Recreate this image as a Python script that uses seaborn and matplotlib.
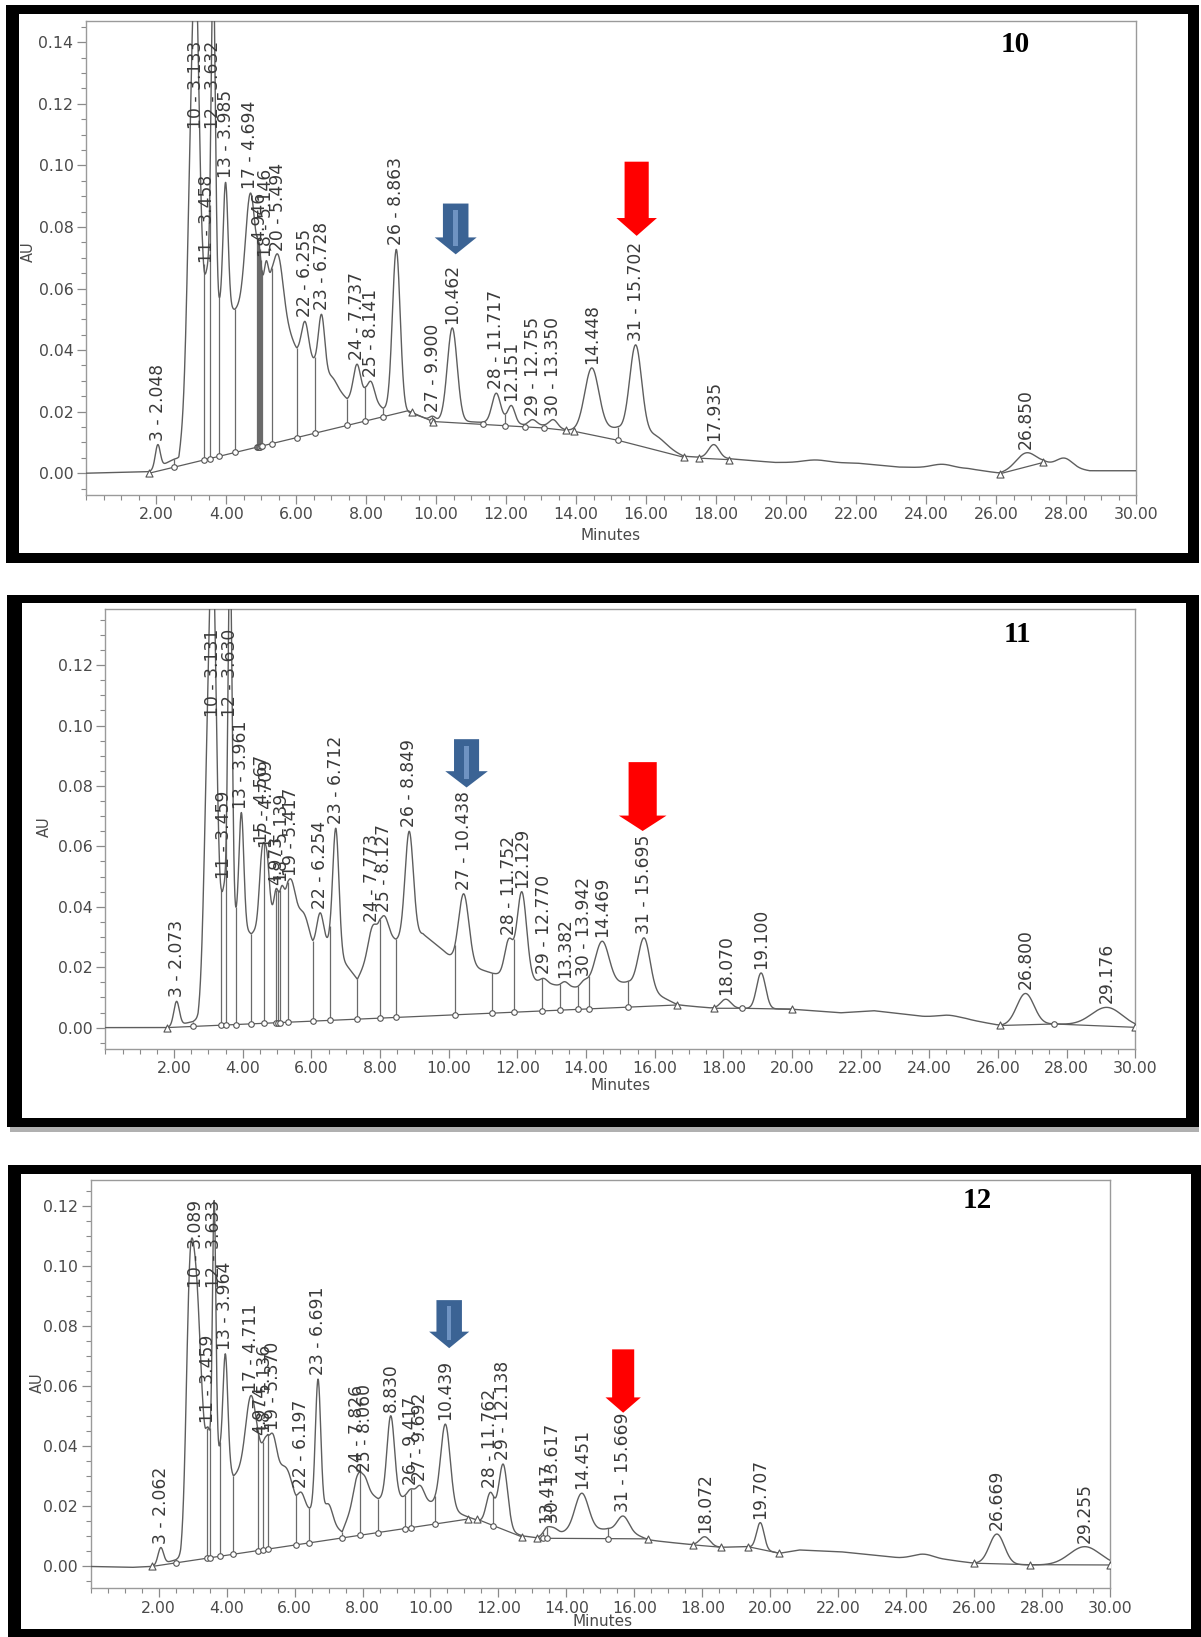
import numpy as np
import pandas as pd
import matplotlib
matplotlib.use("Agg")
import matplotlib.pyplot as plt
from matplotlib.patches import Rectangle, Polygon
from matplotlib.ticker import FixedLocator, MultipleLocator, FormatStrFormatter
import seaborn as sns

W, H, DPI = 1201, 1637, 100

sns.set_theme(style="white")
plt.rcParams["font.family"] = ["DejaVu Sans"]

# ---------------------------------------------------------------- sample 10
P1_PEAK_NO = [3, 10, 11, 12, 13, 17, None, 18, 20, 22, 23, 24, 25, 26, 27, None,
              28, None, 29, 30, None, 31, None, None]
P1_PEAK_RT = [2.048, 3.133, 3.458, 3.632, 3.985, 4.694, 4.946, 5.146, 5.494, 6.255,
              6.728, 7.737, 8.141, 8.863, 9.900, 10.462, 11.717, 12.151, 12.755,
              13.350, 14.448, 15.702, 17.935, 26.850]
P1_PEAK_AU = [0.0093, 0.165, 0.067, 0.165, 0.0945, 0.091, 0.074, 0.069, 0.0708, 0.0493,
              0.0516, 0.0354, 0.0298, 0.0727, 0.0185, 0.0472, 0.026, 0.022, 0.0174,
              0.0174, 0.0342, 0.0417, 0.0093, 0.0066]
P1_PEAK_SD = [0.07, 0.10, 0.05, 0.06, 0.07, 0.14, 0.06, 0.06, 0.14, 0.10, 0.09, 0.10,
              0.10, 0.11, 0.08, 0.14, 0.12, 0.10, 0.12, 0.12, 0.20, 0.17, 0.15, 0.28]
P1_HUMP_T = [2.97, 7.05, 16.25, 20.84, 24.46, 27.96]
P1_HUMP_AU = [0.11, 0.031, 0.0125, 0.0043, 0.0029, 0.0049]
P1_HUMP_SD = [0.10, 0.12, 0.30, 0.35, 0.30, 0.22]
P1_ENV_T = [0.0, 1.8, 2.5, 2.65, 3.33, 3.55, 3.79, 4.25, 5.30, 6.02, 6.53, 7.46, 7.98,
            8.48, 9.3, 9.9, 10.1, 11.34, 11.98, 12.55, 13.07, 13.75, 14.0, 15.19, 17.07,
            17.5, 18.38, 19.66, 22.0, 23.22, 25.2, 26.1, 27.35, 28.67, 30.0]
P1_ENV_AU = [0.0, 0.0005, 0.0045, 0.005, 0.058, 0.06, 0.054, 0.053, 0.06, 0.040, 0.036,
             0.024, 0.026, 0.021, 0.0195, 0.017, 0.0172, 0.0165, 0.0172, 0.0155, 0.0155,
             0.014, 0.014, 0.0148, 0.0055, 0.0052, 0.0047, 0.0035, 0.0033, 0.002, 0.0015,
             0.0, 0.0033, 0.0008, 0.0008]
P1_BASE = [([1.8, 9.2, 9.9, 13.07, 13.71], [0.0, 0.0203, 0.0168, 0.0147, 0.0139]),
           ([13.95, 15.19, 17.07], [0.0136, 0.0107, 0.0052]),
           ([17.5, 18.38], [0.0049, 0.0044]),
           ([26.1, 27.35], [-0.0002, 0.0035])]
P1_DROP_T = [2.51, 3.357, 3.53, 3.79, 4.26, 4.87, 4.90, 4.93, 4.96, 4.99, 5.02, 5.30,
             6.02, 6.53, 7.46, 7.98, 8.48, 9.88, 11.34, 11.98, 12.55, 13.07, 15.19]
P1_TRI_T = [1.8, 9.3, 9.92, 13.71, 13.95, 17.07, 17.5, 18.38, 26.1, 27.35]

# ---------------------------------------------------------------- sample 11
P2_PEAK_NO = [3, 10, 11, 12, 13, 15, 17, None, 18, 19, 22, 23, 24, 25, 26, 27, 28, None,
              29, None, 30, None, 31, None, None, None, None]
P2_PEAK_RT = [2.073, 3.131, 3.459, 3.630, 3.961, 4.567, 4.709, 4.973, 5.139, 5.417,
              6.254, 6.712, 7.773, 8.127, 8.849, 10.438, 11.752, 12.129, 12.770, 13.382,
              13.942, 14.469, 15.695, 18.070, 19.100, 26.800, 29.176]
P2_PEAK_AU = [0.0087, 0.16, 0.0478, 0.16, 0.0712, 0.0598, 0.058, 0.046, 0.047, 0.049,
              0.038, 0.066, 0.0335, 0.037, 0.065, 0.0443, 0.0295, 0.045, 0.0163, 0.0152,
              0.0158, 0.0286, 0.0297, 0.0094, 0.0181, 0.0113, 0.0067]
P2_PEAK_SD = [0.08, 0.10, 0.05, 0.06, 0.07, 0.08, 0.07, 0.06, 0.06, 0.12, 0.10, 0.09,
              0.12, 0.12, 0.12, 0.15, 0.12, 0.14, 0.10, 0.10, 0.10, 0.20, 0.17, 0.15,
              0.13, 0.25, 0.45]
P2_HUMP_T = [2.96, 5.8, 16.2, 24.56]
P2_HUMP_AU = [0.10, 0.0375, 0.0104, 0.0041]
P2_HUMP_SD = [0.10, 0.15, 0.30, 0.30]
P2_ENV_T = [0.0, 1.78, 2.55, 2.7, 3.38, 3.8, 4.25, 5.05, 5.31, 6.04, 6.53, 7.34, 7.99,
            8.46, 9.25, 9.8, 10.18, 11.27, 12.73, 13.24, 13.76, 14.10, 15.22, 16.66,
            17.74, 18.54, 19.99, 21.41, 22.38, 23.83, 25.04, 26.07, 27.64, 30.0]
P2_ENV_AU = [0.0, 0.0, 0.002, 0.003, 0.038, 0.035, 0.031, 0.040, 0.042, 0.026, 0.028,
             0.016, 0.031, 0.029, 0.031, 0.026, 0.022, 0.018, 0.015, 0.0138, 0.0133,
             0.0142, 0.015, 0.0075, 0.0064, 0.0064, 0.0061, 0.0049, 0.0056, 0.0037,
             0.0029, 0.0007, 0.0012, 0.0001]
P2_BASE = [([1.78, 16.66], [0.0, 0.0075]),
           ([17.74, 18.54, 19.99], [0.0064, 0.0064, 0.0061]),
           ([26.07, 27.64, 29.98], [0.0007, 0.0012, 0.0001])]
P2_DROP_T = [2.55, 3.38, 3.52, 3.80, 4.25, 4.62, 4.96, 5.02, 5.09, 5.31, 6.04, 6.53,
             7.34, 7.99, 8.46, 10.18, 11.27, 11.89, 12.73, 13.24, 13.76, 14.10, 15.22,
             18.54, 27.64]
P2_TRI_T = [1.78, 16.66, 17.74, 19.99, 26.07, 29.98]

# ---------------------------------------------------------------- sample 12
P3_PEAK_NO = [3, 10, 11, 12, 13, 17, None, 18, 19, 22, 23, 24, 25, None, 26, 27, None,
              28, 29, None, 30, None, 31, None, None, None, None]
P3_PEAK_RT = [2.062, 3.089, 3.459, 3.633, 3.964, 4.711, 4.974, 5.136, 5.370, 6.197,
              6.691, 7.826, 8.060, 8.830, 9.417, 9.692, 10.439, 11.762, 12.138, 13.417,
              13.617, 14.451, 15.669, 18.072, 19.707, 26.669, 29.255]
P3_PEAK_AU = [0.0063, 0.101, 0.0463, 0.122, 0.0708, 0.0569, 0.042, 0.043, 0.044, 0.0247,
              0.0624, 0.0297, 0.0302, 0.0502, 0.0258, 0.027, 0.0474, 0.0247, 0.0341,
              0.013, 0.013, 0.0244, 0.0168, 0.0099, 0.0146, 0.0108, 0.0066]
P3_PEAK_SD = [0.08, 0.14, 0.05, 0.05, 0.07, 0.15, 0.06, 0.06, 0.10, 0.10, 0.08, 0.10,
              0.10, 0.11, 0.10, 0.12, 0.14, 0.12, 0.13, 0.10, 0.12, 0.20, 0.17, 0.15,
              0.11, 0.22, 0.45]
P3_HUMP_T = [2.9, 5.8, 7.0, 16.0, 24.51]
P3_HUMP_AU = [0.098, 0.032, 0.0208, 0.0115, 0.0041]
P3_HUMP_SD = [0.10, 0.15, 0.12, 0.25, 0.30]
P3_ENV_T = [0.0, 1.2, 1.8, 2.5, 2.65, 3.40, 3.81, 4.20, 5.0, 5.21, 6.04, 6.43, 7.40,
            7.93, 8.46, 9.25, 10.13, 11.1, 12.7, 13.1, 14.0, 15.23, 16.41, 17.73, 18.55,
            19.34, 20.27, 20.85, 22.07, 23.78, 25.24, 25.98, 27.63, 30.0]
P3_ENV_AU = [0.0, -0.0003, 0.0, 0.0022, 0.003, 0.037, 0.038, 0.030, 0.038, 0.041, 0.021,
             0.019, 0.0115, 0.027, 0.0225, 0.023, 0.021, 0.0165, 0.0102, 0.0096, 0.0115,
             0.0125, 0.0088, 0.0072, 0.0064, 0.0066, 0.0044, 0.0055, 0.0049, 0.0029,
             0.0022, 0.0011, 0.0005, 0.0005]
P3_BASE = [([1.8, 11.11], [0.0, 0.0158]),
           ([11.36, 12.68], [0.0158, 0.0099]),
           ([13.12, 16.41], [0.0094, 0.0092]),
           ([17.73, 18.55], [0.0072, 0.0064]),
           ([19.34, 20.27], [0.0066, 0.0044]),
           ([25.98, 27.63, 30.0], [0.0011, 0.0006, 0.0005])]
P3_DROP_T = [2.5, 3.41, 3.51, 3.81, 4.20, 4.92, 5.06, 5.21, 6.04, 6.43, 7.40, 7.93, 8.46,
             9.25, 9.44, 10.13, 11.85, 13.32, 13.42, 15.23]
P3_TRI_T = [1.8, 11.11, 11.36, 12.68, 13.12, 16.41, 17.73, 18.55, 19.34, 20.27, 25.98,
            27.63, 30.0]

X_TICKS = [2, 4, 6, 8, 10, 12, 14, 16, 18, 20, 22, 24, 26, 28, 30]

TRACE_C = "#5e5e5e"
TEXT_C = "#3a3a3a"
FRAME_C = "#9a9a9a"
BLUE = "#3b6394"
RED = "#ff0000"


def px_rect(l, t, r, b):
    return [l / W, 1 - b / H, (r - l) / W, (b - t) / H]


def peak_model(env_t, env_y, centers, heights, widths):
    """Baseline envelope plus Gaussian peaks whose apexes reach the given heights."""
    c = np.asarray(centers, float)
    w = np.asarray(widths, float)
    target = np.asarray(heights, float) - np.interp(c, env_t, env_y)
    G = np.exp(-0.5 * ((c[:, None] - c[None, :]) / w[None, :]) ** 2)
    amp = np.clip(target, 0, None).copy()
    for _ in range(400):
        for i in range(len(amp)):
            r = target[i] - G[i] @ amp + amp[i]
            amp[i] = max(r, 0.0)

    def f(x):
        x = np.atleast_1d(np.asarray(x, float))
        g = np.exp(-0.5 * ((x[:, None] - c[None, :]) / w[None, :]) ** 2)
        return np.interp(x, env_t, env_y) + g @ amp
    return f


def down_arrow(ax, xc, y_top, y_neck, y_tip, shaft_w, head_w, color, stripe=None):
    verts = [(xc - shaft_w / 2, y_top), (xc + shaft_w / 2, y_top),
             (xc + shaft_w / 2, y_neck), (xc + head_w / 2, y_neck), (xc, y_tip),
             (xc - head_w / 2, y_neck), (xc - shaft_w / 2, y_neck)]
    ax.add_patch(Polygon(verts, closed=True, fc=color, ec="none", zorder=6))
    if stripe:
        h = y_top - y_neck
        ax.add_patch(Rectangle((xc - shaft_w * 0.09, y_neck - h * 0.25),
                               shaft_w * 0.18, h * 1.05, fc=stripe, ec="none",
                               zorder=7))


PANELS = [
    dict(tag="10", no=P1_PEAK_NO, rt=P1_PEAK_RT, au=P1_PEAK_AU, sd=P1_PEAK_SD,
         ht=P1_HUMP_T, ha=P1_HUMP_AU, hs=P1_HUMP_SD, et=P1_ENV_T, ea=P1_ENV_AU,
         base=P1_BASE, drops=P1_DROP_T, tris=P1_TRI_T,
         box=(6, 5, 1199, 563), border=(13, 9, 11, 10),
         ax=(86.1, 20.7, 1136.1, 494.6), ylim=(-0.00695, 0.147),
         yticks=[0.00, 0.02, 0.04, 0.06, 0.08, 0.10, 0.12, 0.14],
         au_pos=(28, 252), min_pos=(611, 535), tag_pos=(1015, 44),
         blue=(10.56, 0.0876, 0.0766, 0.0711, 0.73, 1.20),
         red=(15.73, 0.1012, 0.0829, 0.0771, 0.69, 1.16), shadow=False),
    dict(tag="11", no=P2_PEAK_NO, rt=P2_PEAK_RT, au=P2_PEAK_AU, sd=P2_PEAK_SD,
         ht=P2_HUMP_T, ha=P2_HUMP_AU, hs=P2_HUMP_SD, et=P2_ENV_T, ea=P2_ENV_AU,
         base=P2_BASE, drops=P2_DROP_T, tris=P2_TRI_T,
         box=(7, 595, 1199, 1127), border=(15, 8, 13, 9),
         ax=(105.4, 609, 1135.3, 1048.6), ylim=(-0.00695, 0.1386),
         yticks=[0.00, 0.02, 0.04, 0.06, 0.08, 0.10, 0.12],
         au_pos=(44, 827), min_pos=(621, 1086), tag_pos=(1017, 634),
         blue=(10.52, 0.0955, 0.0849, 0.0795, 0.73, 1.24),
         red=(15.65, 0.0879, 0.0702, 0.0651, 0.82, 1.39), shadow=True),
    dict(tag="12", no=P3_PEAK_NO, rt=P3_PEAK_RT, au=P3_PEAK_AU, sd=P3_PEAK_SD,
         ht=P3_HUMP_T, ha=P3_HUMP_AU, hs=P3_HUMP_SD, et=P3_ENV_T, ea=P3_ENV_AU,
         base=P3_BASE, drops=P3_DROP_T, tris=P3_TRI_T,
         box=(8, 1165, 1201, 1637), border=(13, 9, 10, 8),
         ax=(90.7, 1180, 1110.1, 1588.4), ylim=(-0.0073, 0.1287),
         yticks=[0.00, 0.02, 0.04, 0.06, 0.08, 0.10, 0.12],
         au_pos=(37, 1383), min_pos=(603, 1622), tag_pos=(977, 1201),
         blue=(10.55, 0.0887, 0.0782, 0.0727, 0.75, 1.18),
         red=(15.67, 0.0723, 0.0563, 0.0512, 0.65, 1.04), shadow=False),
]

fig = plt.figure(figsize=(W / DPI, H / DPI), dpi=DPI, facecolor="white")

for p in PANELS:
    # heavy black frame round each sample
    l, t, r, b = p["box"]
    bl, bt, br, bb = p["border"]
    if p["shadow"]:
        fig.add_artist(Rectangle(px_rect(l + 3, t + 4, r, b + 5)[:2],
                                 (r - l - 3) / W, (b - t + 1) / H,
                                 transform=fig.transFigure, fc="#b0b0b0", ec="none",
                                 zorder=0))
    o = px_rect(l, t, r, b)
    fig.add_artist(Rectangle(o[:2], o[2], o[3], transform=fig.transFigure,
                             fc="black", ec="none", zorder=0))
    i = px_rect(l + bl, t + bt, r - br, b - bb)
    fig.add_artist(Rectangle(i[:2], i[2], i[3], transform=fig.transFigure,
                             fc="white", ec="none", zorder=0))

    ax = fig.add_axes(px_rect(*p["ax"]))
    ax.set_facecolor("white")
    ax.set_xlim(0, 30)
    ax.set_ylim(*p["ylim"])

    centers = list(p["rt"]) + list(p["ht"])
    heights = list(p["au"]) + list(p["ha"])
    widths = list(p["sd"]) + list(p["hs"])
    trace = peak_model(p["et"], p["ea"], centers, heights, widths)

    grid = np.linspace(0, 30, 4001)
    df = pd.DataFrame({"Minutes": grid, "AU": trace(grid)})
    sns.lineplot(data=df, x="Minutes", y="AU", ax=ax, color=TRACE_C, lw=1.0,
                 zorder=3)

    # integration baseline segments
    bt_all, by_all = [], []
    for seg_t, seg_y in p["base"]:
        ax.plot(seg_t, seg_y, color="#5c5c5c", lw=0.9, zorder=2)
        bt_all += seg_t
        by_all += seg_y
    order = np.argsort(bt_all)
    bt_all = np.asarray(bt_all)[order]
    by_all = np.asarray(by_all)[order]

    drops = np.asarray(p["drops"])
    d_base = np.interp(drops, bt_all, by_all)
    ax.vlines(drops, d_base, trace(drops), color="#6a6a6a", lw=0.9, zorder=2)
    mk = pd.DataFrame({"t": drops, "y": d_base})
    sns.scatterplot(data=mk, x="t", y="y", ax=ax, marker="o", s=16,
                    facecolor="white", edgecolor="#555555", linewidth=0.8, zorder=4)
    tris = np.asarray(p["tris"])
    tk = pd.DataFrame({"t": tris, "y": np.interp(tris, bt_all, by_all)})
    sns.scatterplot(data=tk, x="t", y="y", ax=ax, marker="^", s=26,
                    facecolor="white", edgecolor="#555555", linewidth=0.8, zorder=4)

    # axes styling
    for s in ax.spines.values():
        s.set_visible(True)
        s.set_color(FRAME_C)
        s.set_linewidth(1.0)
    ax.xaxis.set_major_locator(FixedLocator(X_TICKS))
    ax.xaxis.set_minor_locator(MultipleLocator(0.5))
    ax.yaxis.set_major_locator(FixedLocator(p["yticks"]))
    ax.yaxis.set_minor_locator(MultipleLocator(0.005))
    ax.xaxis.set_major_formatter(FormatStrFormatter("%.2f"))
    ax.yaxis.set_major_formatter(FormatStrFormatter("%.2f"))
    ax.tick_params(which="major", direction="out", length=6.5, width=0.9,
                   color="#8a8a8a", labelsize=11.3, labelcolor="#4a4a4a",
                   bottom=True, left=True, pad=2.6)
    ax.tick_params(which="minor", direction="out", length=3.5, width=0.8,
                   color="#8a8a8a", bottom=True, left=True)
    ax.set_xlabel("")
    ax.set_ylabel("")

    fig.text(p["au_pos"][0] / W, 1 - p["au_pos"][1] / H, "AU", rotation=90,
             ha="center", va="center", fontsize=10.5, color="#4a4a4a")
    fig.text(p["min_pos"][0] / W, 1 - p["min_pos"][1] / H, "Minutes",
             ha="center", va="center", fontsize=11, color="#4a4a4a")
    fig.text(p["tag_pos"][0] / W, 1 - p["tag_pos"][1] / H, p["tag"],
             ha="center", va="center", fontsize=21, fontweight="bold",
             family="Liberation Serif", color="black")

    # peak labels: "number - retention time", standing on the apex
    fig.canvas.draw()
    renderer = fig.canvas.get_renderer()
    inv = ax.transData.inverted()
    top_px = ax.transData.transform((0, p["ylim"][1]))[1] - 20
    for n, rt in zip(p["no"], p["rt"]):
        txt = f"{n} - {rt:.3f}" if n is not None else f"{rt:.3f}"
        apex = float(trace(rt)[0])
        apex_px = ax.transData.transform((rt, apex))[1] + 4
        tx = ax.text(rt, inv.transform((0, apex_px))[1], txt, rotation=90,
                     ha="center", va="bottom", fontsize=12.3, color=TEXT_C, zorder=5)
        ext = tx.get_window_extent(renderer)
        if apex_px + ext.height > top_px:
            tx.set_y(inv.transform((0, top_px - ext.height))[1])

    down_arrow(ax, *p["blue"], color=BLUE, stripe="#6f93c2")
    down_arrow(ax, *p["red"], color=RED)

fig.savefig("out.png", dpi=DPI, facecolor="white")
